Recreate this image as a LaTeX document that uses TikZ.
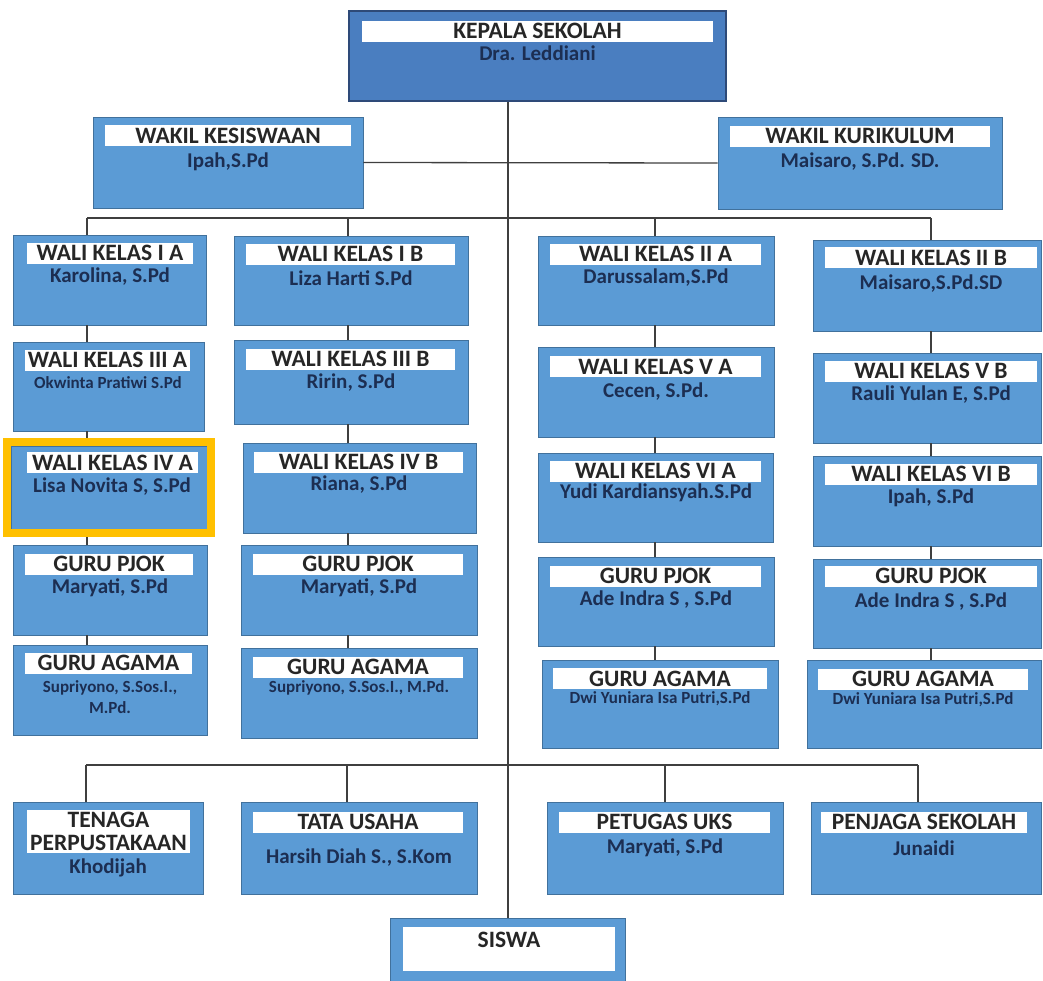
\documentclass[tikz,border=0pt]{standalone}
\usepackage{fontspec}
\setmainfont{Carlito}
\usetikzlibrary{fit}

\definecolor{biru}{HTML}{5B9BD5}
\definecolor{birutua}{HTML}{4A7EC0}
\definecolor{garis}{HTML}{41719C}
\definecolor{tepi}{HTML}{2E4A78}
\definecolor{navy}{HTML}{1C2E52}
\definecolor{judul}{HTML}{262626}
\definecolor{oranye}{HTML}{FFC000}
\definecolor{hub}{HTML}{3F3F3F}

\begin{document}
\begin{tikzpicture}[x=1pt,y=-1pt]
	\tikzstyle{kotak} = [draw=garis, fill=biru, rectangle, line width=0.8pt, inner sep=0pt, minimum height=89pt]
	\tikzstyle{pita} = [fill=white, rectangle, inner sep=0pt, minimum height=21pt, text=judul, font=\fontsize{23.5}{25}\selectfont\bfseries]
	\tikzstyle{nama} = [text=navy, inner sep=0pt, font=\fontsize{21}{23}\selectfont\bfseries]
	\tikzstyle{namakecil} = [text=navy, inner sep=0pt, align=center, font=\fontsize{17}{21}\selectfont\bfseries]
	\tikzstyle{garishub} = [draw=hub, line width=1.3pt]
	\tikzstyle{sorot} = [draw=oranye, line width=8pt, rectangle]
	\useasboundingbox (0,0) rectangle (1043,980);

	% pimpinan
	\node [kotak, fill=birutua, draw=tepi, line width=2.5pt, minimum width=377pt, minimum height=90pt] (kepala) at (537.5,56) {};
	\node [pita, minimum width=351pt] (kepala-j) at (537.5,31) {KEPALA SEKOLAH};
	\node [nama] (kepala-n) at (537.5,53) {Dra. Leddiani};
	\node [kotak, minimum width=270pt, minimum height=91pt] (kesiswaan) at (228,162.5) {};
	\node [pita, minimum width=246pt] (kesiswaan-j) at (228,135.5) {WAKIL KESISWAAN};
	\node [nama] (kesiswaan-n) at (228,162) {Ipah,S.Pd};
	\node [kotak, minimum width=284pt, minimum height=92pt] (kurikulum) at (860,163) {};
	\node [pita, minimum width=260pt] (kurikulum-j) at (860,136) {WAKIL KURIKULUM};
	\node [nama] (kurikulum-n) at (860,162) {Maisaro, S.Pd. SD.};

	% kolom 1
	\node [kotak, minimum width=193pt, minimum height=90pt] (ia) at (109.5,280) {};
	\node [pita, minimum width=166pt] (ia-j) at (110,253) {WALI KELAS I A};
	\node [nama] (ia-n) at (110,277) {Karolina, S.Pd};
	\node [kotak, minimum width=191pt] (iiia) at (108.5,386.5) {};
	\node [pita, minimum width=165pt] (iiia-j) at (107.5,360) {WALI KELAS III A};
	\node [namakecil] (iiia-n) at (108,383) {Okwinta Pratiwi S.Pd};
	\node [kotak, minimum width=196pt, minimum height=83pt] (iva) at (109,487.5) {};
	\node [pita, minimum width=171pt] (iva-j) at (112.5,462.5) {WALI KELAS IV A};
	\node [nama] (iva-n) at (112,487) {Lisa Novita S, S.Pd};
	\node [kotak, minimum width=194pt, minimum height=90pt] (pjoka) at (110,590) {};
	\node [pita, minimum width=168pt] (pjoka-j) at (109,564) {GURU PJOK};
	\node [nama] (pjoka-n) at (110,588) {Maryati, S.Pd};
	\node [kotak, minimum width=194pt, minimum height=90pt] (agamaa) at (110,690) {};
	\node [pita, minimum width=167pt] (agamaa-j) at (108.5,663) {GURU AGAMA};
	\node [namakecil] (agamaa-n) at (110,697) {Supriyono, S.Sos.I.,\\M.Pd.};
	\node [sorot, fit=(iva), inner sep=4pt] (fokus) {};

	% kolom 2
	\node [kotak, minimum width=234pt] (ib) at (351,280.5) {};
	\node [pita, minimum width=209pt] (ib-j) at (350.5,254) {WALI KELAS I B};
	\node [nama] (ib-n) at (351,278) {Liza Harti S.Pd};
	\node [kotak, minimum width=234pt, minimum height=84pt] (iiib) at (351,382) {};
	\node [pita, minimum width=209pt] (iiib-j) at (350.5,359) {WALI KELAS III B};
	\node [nama] (iiib-n) at (351,383) {Ririn, S.Pd};
	\node [kotak, minimum width=233pt, minimum height=90pt] (ivb) at (359.5,488) {};
	\node [pita, minimum width=209pt] (ivb-j) at (358.5,462) {WALI KELAS IV B};
	\node [nama] (ivb-n) at (359,485) {Riana, S.Pd};
	\node [kotak, minimum width=236pt, minimum height=90pt] (pjokb) at (359,590) {};
	\node [pita, minimum width=210pt] (pjokb-j) at (358,564) {GURU PJOK};
	\node [nama] (pjokb-n) at (359,588) {Maryati, S.Pd};
	\node [kotak, minimum width=236pt, minimum height=90pt] (agamab) at (359,693) {};
	\node [pita, minimum width=210pt] (agamab-j) at (358,667) {GURU AGAMA};
	\node [namakecil] (agamab-n) at (359,688) {Supriyono, S.Sos.I., M.Pd.};

	% kolom 3
	\node [kotak, minimum width=236pt] (iia) at (656,280.5) {};
	\node [pita, minimum width=211pt] (iia-j) at (655.5,254) {WALI KELAS II A};
	\node [nama] (iia-n) at (656,278) {Darussalam,S.Pd};
	\node [kotak, minimum width=236pt, minimum height=90pt] (va) at (656,392) {};
	\node [pita, minimum width=211pt] (va-j) at (655.5,366.5) {WALI KELAS V A};
	\node [nama] (va-n) at (656,392) {Cecen, S.Pd.};
	\node [kotak, minimum width=235pt] (via) at (655.5,497.5) {};
	\node [pita, minimum width=211pt] (via-j) at (655.5,471) {WALI KELAS VI A};
	\node [nama] (via-n) at (656,493) {Yudi Kardiansyah.S.Pd};
	\node [kotak, minimum width=236pt] (pjokc) at (656,601.5) {};
	\node [pita, minimum width=211pt] (pjokc-j) at (655.5,576) {GURU PJOK};
	\node [nama] (pjokc-n) at (656,600) {Ade Indra S , S.Pd};
	\node [kotak, minimum width=236pt, minimum height=88pt] (agamac) at (660,704) {};
	\node [pita, minimum width=214pt] (agamac-j) at (660,678.5) {GURU AGAMA};
	\node [namakecil] (agamac-n) at (660,699) {Dwi Yuniara Isa Putri,S.Pd};

	% kolom 4
	\node [kotak, minimum width=228pt, minimum height=91pt] (iib) at (927,285.5) {};
	\node [pita, minimum width=212pt] (iib-j) at (931,257.5) {WALI KELAS II B};
	\node [nama] (iib-n) at (931,284) {Maisaro,S.Pd.SD};
	\node [kotak, minimum width=228pt, minimum height=90pt] (vb) at (927,398) {};
	\node [pita, minimum width=212pt] (vb-j) at (931,371) {WALI KELAS V B};
	\node [nama] (vb-n) at (931,395) {Rauli Yulan E, S.Pd};
	\node [kotak, minimum width=228pt, minimum height=90pt] (vib) at (927,501) {};
	\node [pita, minimum width=212pt] (vib-j) at (931,474) {WALI KELAS VI B};
	\node [nama] (vib-n) at (931,498) {Ipah, S.Pd};
	\node [kotak, minimum width=228pt] (pjokd) at (927,603.5) {};
	\node [pita, minimum width=212pt] (pjokd-j) at (931,576) {GURU PJOK};
	\node [nama] (pjokd-n) at (931,602) {Ade Indra S , S.Pd};
	\node [kotak, minimum width=234pt, minimum height=88pt] (agamad) at (924,704) {};
	\node [pita, minimum width=210pt] (agamad-j) at (923,679) {GURU AGAMA};
	\node [namakecil] (agamad-n) at (923,700) {Dwi Yuniara Isa Putri,S.Pd};

	% staf
	\node [kotak, minimum width=190pt, minimum height=92pt] (pustaka) at (108,848) {};
	\node [pita, minimum width=163pt, minimum height=43pt, align=center, font=\fontsize{23.5}{23}\selectfont\bfseries] (pustaka-j) at (108.5,831.5) {TENAGA\\PERPUSTAKAAN};
	\node [nama] (pustaka-n) at (108,868) {Khodijah};
	\node [kotak, minimum width=236pt, minimum height=92pt] (tu) at (359,848) {};
	\node [pita, minimum width=210pt] (tu-j) at (358,822) {TATA USAHA};
	\node [nama] (tu-n) at (359,858) {Harsih Diah S., S.Kom};
	\node [kotak, minimum width=236pt, minimum height=92pt] (uks) at (665,848) {};
	\node [pita, minimum width=211pt] (uks-j) at (664.5,822) {PETUGAS UKS};
	\node [nama] (uks-n) at (665,848) {Maryati, S.Pd};
	\node [kotak, minimum width=230pt, minimum height=92pt] (penjaga) at (926,848) {};
	\node [pita, minimum width=206pt] (penjaga-j) at (924,822) {PENJAGA SEKOLAH};
	\node [nama] (penjaga-n) at (924,848) {Junaidi};
	\node [kotak, minimum width=235pt, minimum height=64pt] (siswa) at (508,950) {};
	\node [pita, minimum width=212pt, minimum height=44pt] (siswa-j) at (509,949) {};
	\node [pita, fill=none] (siswa-n) at (509,940) {SISWA};

	% garis
	\coordinate (k1) at (87,218);
	\coordinate (k2) at (348,218);
	\coordinate (k3) at (655,218);
	\coordinate (k4) at (931,218);
	\coordinate (b1) at (86,765);
	\coordinate (b2) at (347,765);
	\coordinate (b3) at (665,765);
	\coordinate (b4) at (918,765);
	\draw[garishub] (kepala.south -| siswa.north) -- (siswa.north);
	\draw[garishub] (kesiswaan.east) -- (kurikulum.west);
	\draw[garishub] (k1) -- (k4);
	\draw[garishub] (k1) -- (ia.north -| k1);
	\draw[garishub] (k2) -- (ib.north -| k2);
	\draw[garishub] (k3) -- (iia.north -| k3);
	\draw[garishub] (k4) -- (iib.north -| k4);
	\draw[garishub] (ia.south -| k1) -- (iiia.north -| k1);
	\draw[garishub] (iiia.south -| k1) -- (fokus.north -| k1);
	\draw[garishub] (fokus.south -| k1) -- (pjoka.north -| k1);
	\draw[garishub] (pjoka.south -| k1) -- (agamaa.north -| k1);
	\draw[garishub] (ib.south -| k2) -- (iiib.north -| k2);
	\draw[garishub] (iiib.south -| k2) -- (ivb.north -| k2);
	\draw[garishub] (ivb.south -| k2) -- (pjokb.north -| k2);
	\draw[garishub] (pjokb.south -| k2) -- (agamab.north -| k2);
	\draw[garishub] (iia.south -| k3) -- (va.north -| k3);
	\draw[garishub] (va.south -| k3) -- (via.north -| k3);
	\draw[garishub] (via.south -| k3) -- (pjokc.north -| k3);
	\draw[garishub] (pjokc.south -| k3) -- (agamac.north -| k3);
	\draw[garishub] (iib.south -| k4) -- (vb.north -| k4);
	\draw[garishub] (vb.south -| k4) -- (vib.north -| k4);
	\draw[garishub] (vib.south -| k4) -- (pjokd.north -| k4);
	\draw[garishub] (pjokd.south -| k4) -- (agamad.north -| k4);
	\draw[garishub] (b1) -- (b4);
	\draw[garishub] (b1) -- (pustaka.north -| b1);
	\draw[garishub] (b2) -- (tu.north -| b2);
	\draw[garishub] (b3) -- (uks.north -| b3);
	\draw[garishub] (b4) -- (penjaga.north -| b4);
\end{tikzpicture}
\end{document}
